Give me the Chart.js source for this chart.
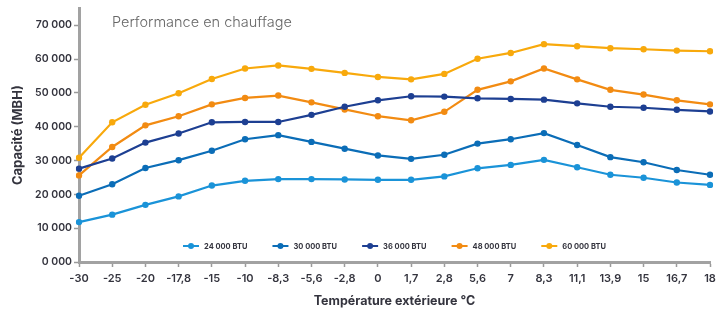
<!DOCTYPE html>
<html>
<head>
<meta charset="utf-8">
<script src="https://cdn.jsdelivr.net/npm/chart.js@4.4.1/dist/chart.umd.min.js"></script>
<style>
  html, body { margin: 0; padding: 0; background: #fff; }
  #wrap { width: 727px; height: 310px; }
</style>
</head>
<body>
<div id="wrap"><canvas id="myChart" width="727" height="310"></canvas></div>
<script>
const temperatures = ['-30', '-25', '-20', '-17,8', '-15', '-10', '-8,3', '-5,6', '-2,8', '0',
  '1,7', '2,8', '5,6', '7', '8,3', '11,1', '13,9', '15', '16,7', '18'];

const btu24000 = [11800, 14000, 16900, 19400, 22600, 24000, 24500, 24500, 24400, 24300,
  24300, 25300, 27700, 28700, 30200, 28000, 25800, 24900, 23500, 22800];
const btu30000 = [19600, 23000, 27800, 30100, 32900, 36300, 37500, 35500, 33500, 31500,
  30500, 31700, 35000, 36300, 38100, 34600, 31000, 29500, 27200, 25800];
const btu36000 = [27600, 30600, 35300, 38000, 41300, 41400, 41400, 43500, 45900, 47800,
  49000, 48900, 48400, 48200, 48000, 46900, 45900, 45600, 45000, 44500];
const btu48000 = [25600, 34000, 40400, 43100, 46600, 48500, 49200, 47200, 45100, 43100,
  41900, 44400, 50900, 53400, 57200, 54000, 50900, 49500, 47800, 46600];
const btu60000 = [30800, 41300, 46500, 49900, 54100, 57200, 58100, 57100, 55900, 54700,
  54000, 55600, 60100, 61800, 64400, 63800, 63200, 62900, 62500, 62300];

const yTicks = [0, 10000, 20000, 30000, 40000, 50000, 60000, 70000];

const seriesNames = ['24 000 BTU', '30 000 BTU', '36 000 BTU', '48 000 BTU', '60 000 BTU'];
const seriesColors = ['#1a93d8', '#0b6db7', '#1d3f92', '#f28b12', '#f8a90c'];
const seriesData = [btu24000, btu30000, btu36000, btu48000, btu60000];

const FONT = 'Inter, "Noto Sans", sans-serif';
const TEXT = '#34343e';

const datasets = seriesData.map((d, i) => ({
  label: seriesNames[i],
  data: d,
  borderColor: seriesColors[i],
  backgroundColor: seriesColors[i],
  borderWidth: 2.2,
  pointRadius: 3.2,
  pointHoverRadius: 3.2,
  pointBorderWidth: 0,
  tension: 0,
}));

// title drawn inside the plot area
const innerTitle = {
  id: 'innerTitle',
  afterDraw(chart) {
    const ctx = chart.ctx;
    ctx.save();
    ctx.font = '300 14.5px ' + FONT;
    ctx.fillStyle = '#666666';
    ctx.textBaseline = 'alphabetic';
    ctx.fillText('Performance en chauffage', chart.chartArea.left + 33, 27);
    ctx.restore();
  }
};

// legend drawn inside the plot area, near the bottom
const innerLegend = {
  id: 'innerLegend',
  afterDatasetsDraw(chart) {
    const ctx = chart.ctx;
    const area = chart.chartArea;
    ctx.save();
    ctx.font = '700 7.5px ' + FONT;
    const gap = 25, lineW = 16, textGap = 5;
    const widths = chart.data.datasets.map(ds => lineW + textGap + ctx.measureText(ds.label).width);
    const total = widths.reduce((a, b) => a + b, 0) + gap * (widths.length - 1);
    let x = (area.left + area.right) / 2 - total / 2;
    const y = area.bottom - 16;
    chart.data.datasets.forEach((ds, i) => {
      ctx.strokeStyle = ds.borderColor;
      ctx.lineWidth = 2;
      ctx.beginPath();
      ctx.moveTo(x, y);
      ctx.lineTo(x + lineW, y);
      ctx.stroke();
      ctx.fillStyle = ds.borderColor;
      ctx.beginPath();
      ctx.arc(x + lineW / 2, y, 3, 0, Math.PI * 2);
      ctx.fill();
      ctx.fillStyle = TEXT;
      ctx.textBaseline = 'middle';
      ctx.fillText(ds.label, x + lineW + textGap, y + 0.5);
      x += widths[i] + gap;
    });
    ctx.restore();
  }
};

const config = {
  type: 'line',
  data: { labels: temperatures, datasets: datasets },
  options: {
    responsive: false,
    animation: false,
    layout: { padding: { left: 4, right: 17, top: 8, bottom: 0 } },
    plugins: {
      legend: { display: false },
      title: { display: false },
      tooltip: { enabled: false }
    },
    scales: {
      x: {
        offset: false,
        border: { color: '#a2a2a2', width: 3 },
        grid: { drawOnChartArea: false, color: '#9a9a9a', tickLength: 5, tickWidth: 1.5 },
        ticks: { color: TEXT, font: { family: FONT, size: 11, weight: '600' }, padding: 5,
          autoSkip: false, maxRotation: 0 },
        title: { display: true, text: 'Température extérieure °C', color: TEXT,
          font: { family: FONT, size: 12.5, weight: '700' }, padding: { top: 0, bottom: 1 } },
        afterFit(s) { s.height = 48; }
      },
      y: {
        min: 0,
        max: 75000,
        border: { color: '#a2a2a2', width: 3 },
        grid: { drawOnChartArea: false, color: '#9a9a9a', tickLength: 5, tickWidth: 1.5 },
        afterBuildTicks(s) { s.ticks = yTicks.map(v => ({ value: v })); },
        ticks: {
          color: TEXT, font: { family: FONT, size: 10.5, weight: '600' }, padding: 2,
          callback: v => (v / 1000) + ' 000'
        },
        title: { display: true, text: 'Capacité (MBH)', color: TEXT,
          font: { family: FONT, size: 13, weight: '700' }, padding: { top: 6, bottom: 0 } },
        afterFit(s) { s.width = 75; }
      }
    }
  },
  plugins: [innerTitle, innerLegend]
};

const myChart = new Chart(document.getElementById('myChart').getContext('2d'), config);
</script>
</body>
</html>
